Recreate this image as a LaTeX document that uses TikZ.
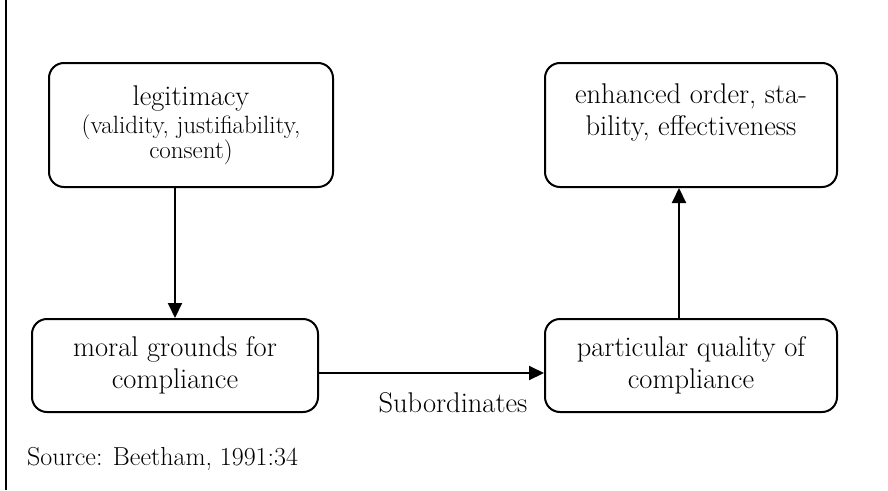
\documentclass[tikz,border=0pt]{standalone}
\usetikzlibrary{arrows.meta}

\tikzset{
  boite/.style={draw, line width=2pt, rounded corners=15pt, align=center,
    font=\fontsize{28.5}{32}\selectfont},
  fleche/.style={line width=2pt, -{Triangle[length=15pt,width=14pt]}}
}
\newcommand{\petitfont}{\fontsize{25}{27}\selectfont}

\begin{document}
\begin{tikzpicture}[x=1pt,y=-1pt]

\useasboundingbox (0,0) rectangle (888,490);

% Cadre
\draw[line width=2pt]
(6,0)
--
(6,490);

% Boites
\node[boite, minimum width=284pt, minimum height=124pt]
(legit) at (191,125)
{legitimacy\\[-4pt]{\petitfont (validity, justifiability,}\\[-7pt]{\petitfont consent)}};

\node[boite, minimum width=292pt, minimum height=124pt]
(order) at (691,125)
{};

\node[align=center, font=\fontsize{28.5}{32}\selectfont]
(ordertxt) at (691,113)
{enhanced order, sta-\\bility, effectiveness};

\node[boite, minimum width=286pt, minimum height=93pt]
(moral) at (175,365.5)
{moral grounds for\\compliance};

\node[boite, minimum width=292pt, minimum height=93pt]
(quality) at (691,365.5)
{particular quality of\\compliance};

% Fleches
\draw[fleche]
(moral.north |- legit.south)
--
(moral.north);

\draw[fleche]
([xshift=-12pt]quality.north)
--
([xshift=-12pt]order.south);

\draw[fleche]
([yshift=-7.5pt]moral.east)
--
([yshift=-7.5pt]quality.west);

\node[font=\fontsize{28.5}{32}\selectfont]
(subord) at (453,403)
{Subordinates};

% Source
\node[anchor=base west, inner sep=0pt, font=\fontsize{26}{30}\selectfont]
(source) at (27,465)
{Source: Beetham, 1991:34};

\end{tikzpicture}
\end{document}
